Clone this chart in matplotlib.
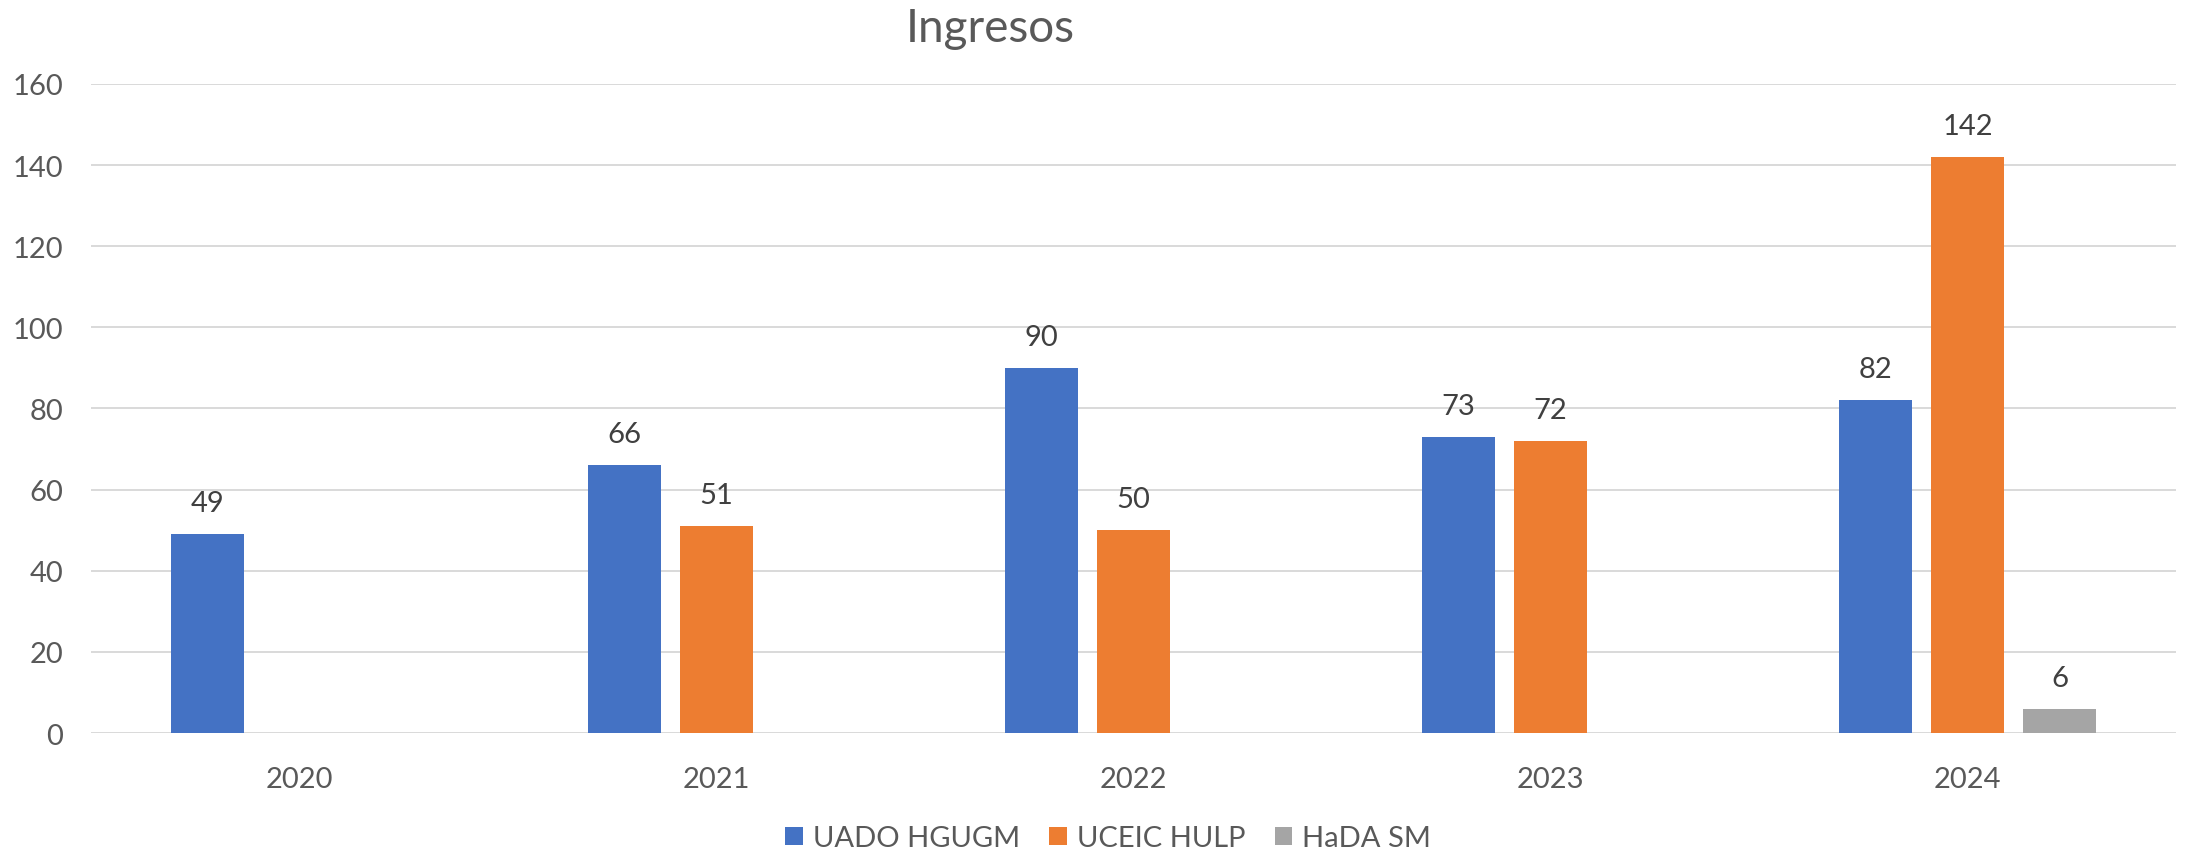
import matplotlib
matplotlib.use('Agg')
import matplotlib.pyplot as plt
import numpy as np

# datos de ingresos por unidad y año
years = ['2020', '2021', '2022', '2023', '2024']
series_names = ['UADO HGUGM', 'UCEIC HULP', 'HaDA SM']
uado = [49, 66, 90, 73, 82]
uceic = [None, 51, 50, 72, 142]
hada = [None, None, None, None, 6]
colors = ['#4472C4', '#ED7D31', '#A5A5A5']

plt.rcParams['font.family'] = ['Lato', 'DejaVu Sans']

fig = plt.figure(figsize=(21.86, 8.54), dpi=100)
ax = fig.add_axes([0.0416, 0.1405, 0.9538, 0.76])

x = np.arange(len(years))
offsets = [-0.221, 0.0, 0.221]
width = 0.174

for vals, off, col, name in zip([uado, uceic, hada], offsets, colors, series_names):
    xs = [xi + off for xi, v in zip(x, vals) if v is not None]
    ys = [v for v in vals if v is not None]
    bars = ax.bar(xs, ys, width=width, color=col, label=name, zorder=3)
    # etiquetas de valor encima de cada barra
    for bx, by in zip(xs, ys):
        ax.annotate(str(by), xy=(bx, by), xytext=(0, 13), textcoords='offset points',
                    ha='center', va='bottom', fontsize=21, color='#404040')

ax.set_xlim(-0.5, 4.5)
ax.set_ylim(0, 160)
ax.set_yticks(range(0, 161, 20))
ax.set_xticks(x)
ax.set_xticklabels(years)

ax.grid(axis='y', color='#D9D9D9', linewidth=1.4, zorder=0)
ax.set_axisbelow(True)
for s in ax.spines.values():
    s.set_visible(False)
ax.tick_params(axis='both', length=0, labelsize=21, labelcolor='#595959')
ax.tick_params(axis='x', pad=24)
ax.tick_params(axis='y', pad=20)

fig.text(0.4529, 0.966, 'Ingresos', ha='center', va='center', fontsize=33,
         color='#595959')

fig.legend(loc='center', bbox_to_anchor=(0.507, 0.017), ncol=3, frameon=False,
           fontsize=21, labelcolor='#595959', handlelength=0.6, handleheight=0.6,
           handletextpad=0.35, columnspacing=1.0, borderaxespad=0)

plt.savefig('out.png', dpi=100)
plt.close(fig)
